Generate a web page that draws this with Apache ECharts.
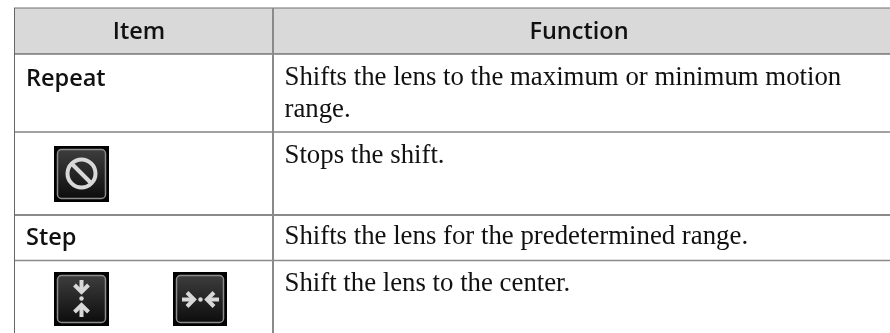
<!DOCTYPE html>
<html>
<head>
<meta charset="utf-8">
<style>html,body{margin:0;padding:0;background:#fff}#c{width:890px;height:333px}</style>
<script src="https://cdn.jsdelivr.net/npm/echarts@6/dist/echarts.min.js"></script>
</head>
<body>
<div id="c"></div>
<script>
const headers = ['Item', 'Function'];
const itemLabels = ['Repeat', '', 'Step', ''];
const functionLines = [
  ['Shifts the lens to the maximum or minimum motion', 'range.'],
  ['Stops the shift.'],
  ['Shifts the lens for the predetermined range.'],
  ['Shift the lens to the center.']
];
const sans = '"Open Sans", sans-serif';
const serif = '"Liberation Serif", serif';
const g = [];
g.push({type:'rect',shape:{x:14,y:8,width:876,height:46},style:{fill:'#d9d9d9'}});
const hl = (y,c,w)=>g.push({type:'line',shape:{x1:14,y1:y,x2:890,y2:y},style:{stroke:c,lineWidth:w}});
hl(8,'#707070',1); hl(54,'#3a3a3a',1); hl(132,'#444',1); hl(215,'#8a8a8a',2); hl(260.5,'#8a8a8a',1.5);
g.push({type:'line',shape:{x1:14.5,y1:8,x2:14.5,y2:333},style:{stroke:'#666',lineWidth:1}});
g.push({type:'line',shape:{x1:273,y1:8,x2:273,y2:333},style:{stroke:'#8a8a8a',lineWidth:2}});
const txt=(s,x,y,font,align)=>g.push({type:'text',style:{text:s,x,y,font,fill:'#111',textAlign:align||'left',textVerticalAlign:'middle'}});
txt(headers[0],139,32,'600 23.5px '+sans,'center');
txt(headers[1],579,32,'600 23.5px '+sans,'center');
const rowTextY=[79,0,238,0];
const rowFuncY=[[77.5,110],[155.5],[237],[284]];
itemLabels.forEach((s,i)=>{ if(s) txt(s,26,rowTextY[i],'600 23.5px '+sans); });
functionLines.forEach((ls,i)=>ls.forEach((s,j)=>txt(s,284.5,rowFuncY[i][j],'26.8px '+serif)));
function iconBase(x,y,w,h){
  g.push({type:'rect',shape:{x,y,width:w,height:h},style:{fill:'#000'}});
  g.push({type:'rect',shape:{x:x+3.5,y:y+3.5,width:w-7,height:h-7,r:4},
    style:{stroke:'#8c8c8c',lineWidth:1.5,fill:{type:'linear',x:0,y:0,x2:0,y2:1,colorStops:[{offset:0,color:'#3e3e3e'},{offset:1,color:'#0c0c0c'}]}}});
}
const lineCol='#d8d8d8';
function arrow(x,y,dx,dy){
  const L=12,H=7;
  g.push({type:'polyline',shape:{points:[[x-dx*L,y-dy*L],[x,y]]},style:{stroke:lineCol,lineWidth:4,fill:null}});
  g.push({type:'polyline',shape:{points:[[x-dx*H-dy*H,y-dy*H-dx*H],[x,y],[x-dx*H+dy*H,y-dy*H+dx*H]]},style:{stroke:lineCol,lineWidth:4,fill:null}});
}
iconBase(54,146,55,56);
g.push({type:'circle',shape:{cx:81.5,cy:173.5,r:14},style:{stroke:lineCol,lineWidth:4,fill:null}});
g.push({type:'line',shape:{x1:72,y1:164,x2:91,y2:183},style:{stroke:lineCol,lineWidth:4}});
iconBase(54,272,55,54);
arrow(81.5,292,0,1); arrow(81.5,305,0,-1);
g.push({type:'circle',shape:{cx:81.5,cy:298.5,r:2.2},style:{fill:lineCol}});
iconBase(173,272,54,54);
arrow(194,299.5,1,0); arrow(207,299.5,-1,0);
g.push({type:'circle',shape:{cx:200.5,cy:299.5,r:2.2},style:{fill:lineCol}});
const chart=echarts.init(document.getElementById('c'),null,{renderer:'canvas'});
chart.setOption({animation:false,backgroundColor:'#fff',graphic:{elements:g}});
</script>
</body>
</html>
